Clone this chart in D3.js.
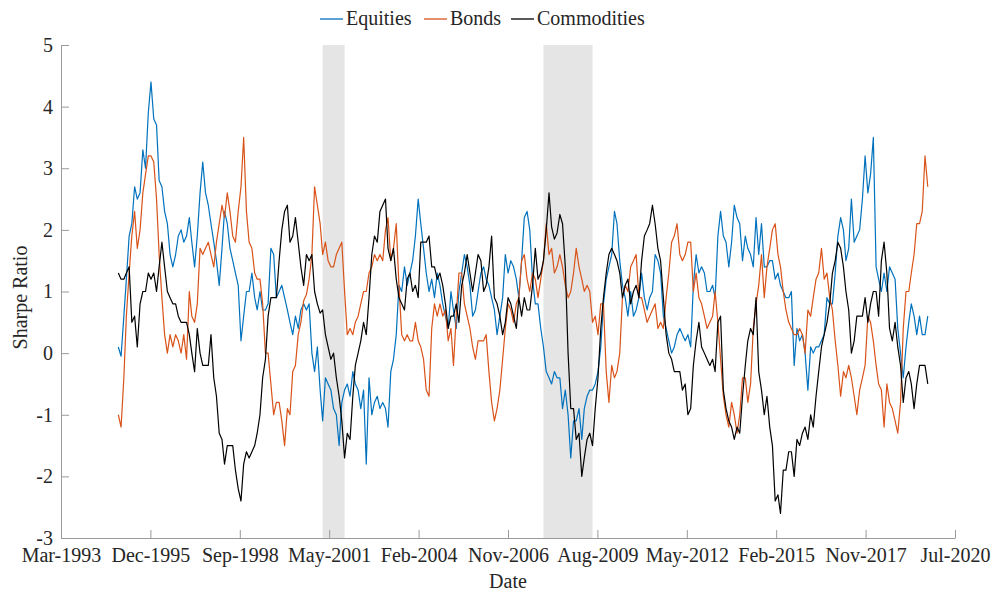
<!DOCTYPE html>
<html>
<head>
<meta charset="utf-8">
<script src="https://cdn.jsdelivr.net/npm/d3@7"></script>
<style>
  body { margin: 0; background: #fff; }
  text { font-family: "Liberation Serif", "Times New Roman", serif; fill: #262626; }
</style>
</head>
<body>
<div id="chart"></div>
<script>
// monthly observations, first one in Dec 1994
let firstMonth = new Date(1994, 11, 1);

let equities = [
  0.1, -0.05, 0.6, 1.2, 1.9, 2.1, 2.7, 2.5, 2.6, 3.3, 3.0, 3.9, 4.4, 3.8, 3.7, 2.8, 2.7, 2.3, 2.1, 1.6,
  1.4, 1.6, 1.9, 2.0, 1.8, 1.9, 2.2, 1.8, 1.4, 1.9, 2.6, 3.1, 2.6, 2.4, 2.1, 1.8,
  1.5, 1.1, 1.7, 2.3, 2.1, 1.7, 1.5, 1.3, 1.1, 0.2, 0.6, 1.0, 1.0, 1.3, 0.9, 0.7, 1.0, 0.7, 0.7, 0.8,
  1.7, 1.6, 0.9, 1.0, 1.1, 0.9, 0.7, 0.5, 0.3, 0.6, 0.4, 0.7, 0.8, 0.7, 0.8, 0.0, -0.3, 0.1,
  -0.6, -1.1, -0.4, -0.5, -0.6, -0.9, -1.0, -1.5, -0.8, -0.6, -0.5, -0.7, -0.3, -0.5, -0.6, -0.9, -0.6, -1.8, -0.4, -1.0,
  -0.8, -0.7, -0.9, -0.8, -0.9, -1.2, -0.3, -0.1, 0.3, 1.1, 1.0, 1.4, 1.1, 1.3, 1.5, 1.9, 2.5, 2.1, 1.7,
  1.3, 1.0, 1.2, 0.9, 1.3, 1.1, 0.8, 0.6, 0.4, 1.0, 0.7, 0.4, 1.0, 1.3, 1.6, 1.4, 1.1, 0.6, 0.7, 1.0,
  1.3, 1.4, 1.2, 1.1, 0.9, 0.7, 0.3, 0.6, 0.9, 1.6, 1.3, 1.5, 1.4, 1.2, 0.9, 1.5, 2.2, 2.3,
  2.0, 1.2, 0.8, 0.8, 0.4, 0.1, -0.3, -0.4, -0.5, -0.3, -0.4, -0.4, -0.9, -0.6, -1.0, -1.7, -1.1, -1.1, -0.9, -1.4,
  -0.9, -0.7, -0.6, -0.6, -0.5, -0.3, 0.1, 0.8, 1.2, 1.4, 1.6, 2.3, 2.1, 1.5, 1.1, 0.9, 0.6, 1.0, 0.6,
  0.7, 0.9, 1.3, 0.9, 0.7, 0.9, 1.0, 1.6, 1.5, 1.3, 0.6, 0.4, 0.2, 0.0, 0.1, 0.3, 0.4, 0.3, 0.2, 0.3,
  0.1, 1.1, 1.6, 1.3, 1.4, 1.3, 1.0, 1.0, 1.1, 0.9, 1.9, 2.3, 1.9, 1.8, 1.4, 1.8, 2.4, 2.2,
  2.1, 1.5, 1.9, 1.7, 1.6, 1.4, 2.2, 1.6, 2.1, 1.4, 1.4, 1.5, 1.5, 1.2, 1.3, 1.1, 1.0, 0.9, 0.9, 1.0,
  -0.2, 0.4, 0.2, 0.3, 0.0, -0.6, 0.1, 0.0, 0.1, 0.1, 0.2, 0.3, 0.9, 0.8, 0.8, 1.3, 1.9, 2.2, 2.0,
  1.5, 1.7, 2.5, 1.8, 1.9, 2.0, 2.5, 3.2, 2.6, 2.9, 3.5, 1.4, 1.2, 1.0, 1.3, 1.0, 1.4, 1.3, 1.2, 0.4,
  0.0, -0.4, 0.1, 0.5, 0.8, 0.6, 0.3, 0.6, 0.3, 0.3, 0.6
];

let bonds = [
  -1.0, -1.2, -0.4, 0.6, 1.3, 1.9, 2.3, 1.7, 2.0, 2.6, 2.9, 3.2, 3.2, 3.1, 2.5, 1.6, 0.9, 0.3, 0.0, 0.3,
  0.1, 0.3, 0.2, 0.0, 0.3, -0.1, 1.0, 0.6, 0.5, 0.8, 1.7, 1.6, 1.7, 1.8, 1.6, 1.4,
  1.8, 2.1, 2.4, 2.2, 2.6, 2.3, 1.9, 1.8, 2.3, 2.7, 3.5, 2.3, 1.8, 1.7, 1.3, 1.2, 1.2, 0.8, 0.0, 0.0,
  -0.5, -1.0, -0.8, -0.8, -1.1, -1.5, -0.9, -1.0, -0.3, -0.2, 0.3, 0.5, 0.85, 0.95, 1.2, 1.6, 2.7, 2.4,
  2.1, 1.6, 1.8, 1.5, 1.4, 1.4, 1.6, 1.7, 1.8, 1.0, 0.3, 0.4, 0.3, 0.5, 0.6, 0.8, 1.0, 1.0, 1.3, 1.4,
  1.6, 1.5, 1.6, 1.5, 2.0, 2.2, 1.5, 1.7, 2.1, 1.1, 0.3, 0.2, 0.3, 0.2, 0.2, 0.5, 0.2, 0.1, -0.1,
  -0.6, -0.7, 0.4, 0.8, 0.6, 0.8, 0.6, 0.7, 0.2, 0.4, -0.2, 0.6, 1.3, 1.3, 0.8, 0.6, 0.4, 0.1, -0.1, 0.2,
  0.2, 0.2, 0.3, -0.3, -0.8, -1.1, -0.9, -0.6, -0.1, 0.4, 0.8, 0.7, 0.5, 0.8, 0.9, 1.5, 1.6, 1.2,
  1.0, 1.3, 1.2, 0.9, 1.2, 1.5, 2.1, 1.6, 1.7, 1.3, 1.4, 1.6, 1.4, 1.1, 0.9, 1.0, 1.3, 1.7, 1.4, 1.2,
  1.0, 1.1, 1.0, 0.5, 0.6, 0.3, 0.8, 0.8, -0.3, -0.8, -0.2, -0.4, -0.3, 0.0, 0.9, 1.1, 1.0, 1.4, 1.5,
  1.6, 0.9, 0.9, 0.7, 0.5, 0.6, 0.7, 0.8, 0.4, 0.5, 0.4, 0.9, 1.3, 1.8, 1.9, 2.1, 1.6, 1.5, 1.6, 1.8,
  1.8, 1.0, 1.3, 0.9, 0.8, 0.6, 0.4, 0.5, 0.6, 1.0, 0.5, -0.1, -0.7, -1.0, -1.2, -0.8, -1.0, -1.3,
  -1.0, -0.4, -0.4, -0.8, -0.5, 0.4, 0.8, 1.1, 1.6, 0.9, 1.4, 1.7, 2.0, 2.1, 1.6, 1.4, 1.0, 0.7, 0.5, 0.4,
  0.3, 0.3, 0.4, 0.3, 0.0, 0.7, 0.6, 0.9, 1.2, 1.3, 1.7, 1.2, 1.3, 0.9, 0.7, 0.2, -0.2, -0.7, -0.3,
  -0.4, -0.2, -0.4, -0.7, -1.0, -0.6, -0.4, -0.2, 0.6, 0.5, 0.2, -0.2, -0.5, -0.6, -1.2, -0.5, -0.8, -0.9, -1.1, -1.3,
  -0.8, 0.4, 1.0, 1.0, 1.3, 1.6, 2.1, 2.1, 2.3, 3.2, 2.7
];

let commodities = [
  1.3, 1.2, 1.2, 1.3, 1.4, 0.5, 0.6, 0.1, 0.8, 1.0, 1.0, 1.3, 1.2, 1.3, 1.0, 1.4, 1.8, 1.4, 1.0, 0.9,
  0.8, 0.8, 0.6, 0.5, 0.5, 0.5, 0.3, 0.0, -0.3, 0.4, 0.0, -0.2, -0.2, -0.2, 0.3, -0.4,
  -0.7, -1.3, -1.4, -1.8, -1.5, -1.5, -1.5, -1.9, -2.2, -2.4, -1.8, -1.6, -1.7, -1.6, -1.5, -1.3, -1.0, -0.4, -0.1, 0.6,
  0.9, 0.9, 0.9, 1.5, 2.0, 2.3, 2.4, 1.8, 1.9, 2.2, 1.8, 1.4, 1.1, 1.6, 1.5, 1.6, 1.0, 0.8,
  0.65, 0.7, 0.3, 0.1, -0.1, 0.0, -0.4, -0.7, -1.1, -1.7, -1.3, -1.4, -0.7, -0.2, 0.0, 0.2, 0.5, 0.3, 0.9, 1.6,
  1.9, 1.8, 2.3, 2.4, 2.5, 1.7, 1.5, 1.7, 1.2, 0.9, 0.8, 0.7, 1.2, 1.3, 1.0, 1.1, 0.9, 1.8, 1.8,
  1.8, 1.9, 1.4, 1.4, 1.2, 1.3, 1.1, 0.8, 0.4, 0.6, 0.6, 0.8, 0.5, 1.1, 1.3, 1.6, 1.3, 1.0, 1.3, 1.6,
  1.5, 1.0, 1.1, 1.4, 1.9, 0.9, 0.8, 0.6, 0.3, 0.5, 0.9, 0.8, 0.6, 0.4, 0.9, 0.6, 0.9, 0.7,
  0.7, 1.1, 1.7, 1.2, 1.3, 1.5, 2.0, 2.6, 2.05, 1.85, 1.95, 2.25, 2.1, 1.4, 0.0, -0.9, -0.9, -1.4, -1.3, -2.0,
  -1.7, -1.4, -1.3, -1.5, -0.9, -0.4, 0.4, 0.9, 1.3, 1.6, 1.7, 1.6, 1.5, 1.3, 0.9, 1.1, 1.2, 0.8, 1.0,
  1.1, 0.9, 1.5, 1.9, 2.0, 2.1, 2.4, 2.1, 1.7, 1.5, 0.9, 0.3, 0.0, -0.1, -0.3, -0.3, -0.3, -0.6, -0.5, -1.0,
  -0.9, -0.2, 0.2, 0.5, 0.1, 0.0, -0.1, -0.2, -0.1, -0.3, 0.5, 0.6, -0.6, -0.9, -1.1, -1.2, -1.4, -1.2,
  -1.3, -0.7, -0.2, 0.2, 0.4, 0.3, 0.9, -0.3, -0.6, -1.0, -0.7, -1.2, -1.5, -2.4, -2.3, -2.6, -1.9, -1.9, -1.6, -1.6,
  -2.0, -1.4, -1.5, -1.3, -1.2, -1.4, -1.0, -1.2, -0.7, -0.3, 0.1, 0.3, 0.5, 0.8, 1.3, 1.5, 1.8, 1.7, 1.4,
  1.0, 0.7, 0.0, 0.2, 0.6, 0.6, 0.6, 0.9, 0.5, 0.8, 1.0, 1.0, 0.6, 1.5, 1.8, 1.3, 0.4, 0.2, 0.5, 0.1,
  -0.2, -0.8, -0.4, -0.3, -0.5, -0.9, -0.5, -0.2, -0.2, -0.2, -0.5
];

let seriesNames = ['Equities', 'Bonds', 'Commodities'];
let seriesColors = ['#0072BD', '#D95319', '#000000'];

// NBER recessions (shaded)
let recessionStarts = [new Date(2001, 2, 1), new Date(2007, 11, 1)];
let recessionEnds = [new Date(2001, 10, 1), new Date(2009, 5, 1)];

let xTickLabels = ['Mar-1993', 'Dec-1995', 'Sep-1998', 'May-2001', 'Feb-2004', 'Nov-2006',
  'Aug-2009', 'May-2012', 'Feb-2015', 'Nov-2017', 'Jul-2020'];
let yTicks = [-3, -2, -1, 0, 1, 2, 3, 4, 5];

// svg size and margins
let svgWidth = 997;
let svgHeight = 595;
let margin = { top: 45, right: 42, bottom: 57, left: 61 };
let width = svgWidth - margin.left - margin.right;
let height = svgHeight - margin.top - margin.bottom;

let svg = d3.select('#chart')
  .append('svg')
  .attr('width', svgWidth)
  .attr('height', svgHeight);

let chartGroup = svg.append('g')
  .attr('transform', `translate(${margin.left}, ${margin.top})`);

// scales
let xStart = new Date(1993, 2, 1);
let xEnd = new Date(2020, 6, 1);
let xScale = d3.scaleTime().domain([xStart, xEnd]).range([0, width]);
let yScale = d3.scaleLinear().domain([-3, 5]).range([height, 0]);

// shaded recessions
chartGroup.selectAll('.recession')
  .data(recessionStarts)
  .enter()
  .append('rect')
  .attr('x', (d, i) => xScale(d))
  .attr('width', (d, i) => xScale(recessionEnds[i]) - xScale(d))
  .attr('y', 0)
  .attr('height', height)
  .attr('fill', '#e5e5e5');

// the three series
let seriesData = [equities, bonds, commodities].map(vals =>
  vals.map((v, i) => ({ date: d3.timeMonth.offset(firstMonth, i), value: v })));

let line = d3.line()
  .x(d => xScale(d.date))
  .y(d => yScale(d.value));

chartGroup.selectAll('.series')
  .data(seriesData)
  .enter()
  .append('path')
  .attr('fill', 'none')
  .attr('stroke', (d, i) => seriesColors[i])
  .attr('stroke-width', 1.2)
  .attr('stroke-linejoin', 'round')
  .attr('d', line);

// axes, ticks pointing inward like matlab
let step = (xEnd - xStart) / 10;
let xTickValues = d3.range(11).map(i => new Date(+xStart + i * step));

let xAxis = d3.axisBottom(xScale)
  .tickValues(xTickValues)
  .tickFormat((d, i) => xTickLabels[i])
  .tickSizeInner(-8)
  .tickSizeOuter(0)
  .tickPadding(10);

// plain hyphen for negatives, as in the original
let yAxis = d3.axisLeft(yScale)
  .tickValues(yTicks)
  .tickFormat(d => String(d))
  .tickSizeInner(-8)
  .tickSizeOuter(0)
  .tickPadding(8);

let xAxisGroup = chartGroup.append('g')
  .attr('transform', `translate(0, ${height})`)
  .call(xAxis);

let yAxisGroup = chartGroup.append('g')
  .call(yAxis);

[xAxisGroup, yAxisGroup].forEach(g => {
  g.selectAll('path, line').attr('stroke', '#9a9a9a');
  g.selectAll('text')
    .attr('font-size', '20px')
    .attr('font-family', '"Liberation Serif", serif')
    .attr('fill', '#262626');
});

// axis titles
chartGroup.append('text')
  .attr('x', width / 2)
  .attr('y', height + 50)
  .attr('text-anchor', 'middle')
  .attr('font-size', '20px')
  .text('Date');

chartGroup.append('text')
  .attr('transform', `translate(${-34}, ${height / 2 + 6}) rotate(-90)`)
  .attr('text-anchor', 'middle')
  .attr('font-size', '20px')
  .text('Sharpe Ratio');

// legend along the top, entries placed where the original has them
let legendStarts = [320, 424, 511];
let legend = svg.append('g').attr('transform', 'translate(0, 19)');
seriesNames.forEach((name, i) => {
  legend.append('line')
    .attr('x1', legendStarts[i])
    .attr('x2', legendStarts[i] + 23)
    .attr('y1', 0)
    .attr('y2', 0)
    .attr('stroke', seriesColors[i])
    .attr('stroke-width', 1.3);
  legend.append('text')
    .attr('x', legendStarts[i] + 26)
    .attr('y', 6)
    .attr('font-size', '20px')
    .text(name);
});
</script>
</body>
</html>
